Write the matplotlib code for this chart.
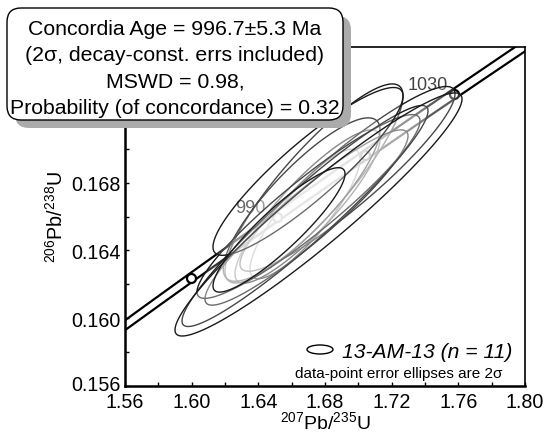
import numpy as np
import matplotlib
matplotlib.use("Agg")
import matplotlib.pyplot as plt
from matplotlib.patches import FancyBboxPatch, Polygon, Ellipse
from matplotlib.transforms import IdentityTransform, ScaledTranslation
from matplotlib.ticker import MultipleLocator, FixedLocator, FixedFormatter, FormatStrFormatter

plt.rcParams['font.family'] = ['Liberation Sans', 'DejaVu Sans']
plt.rcParams['mathtext.fontset'] = 'custom'
plt.rcParams['mathtext.rm'] = 'Liberation Sans'
plt.rcParams['mathtext.it'] = 'Liberation Sans:italic'

# U-Pb analyses (2-sigma errors) and error correlations
pb207_u235 = [1.6680, 1.6695, 1.6734, 1.6935, 1.6660, 1.6689, 1.6701, 1.6680, 1.6698, 1.6761, 1.6524]
err207 = [0.0330, 0.0435, 0.0534, 0.0645, 0.0470, 0.0609, 0.0669, 0.0738, 0.0570, 0.0861, 0.0396]
pb206_u238 = [0.16615, 0.16659, 0.16795, 0.16822, 0.16700, 0.16594, 0.16659, 0.16603, 0.16866, 0.16612, 0.16521]
err206 = [0.00382, 0.00452, 0.00587, 0.00545, 0.00482, 0.00517, 0.00542, 0.00652, 0.00495, 0.00717, 0.00367]
rho = [0.85, 0.88, 0.88, 0.92, 0.85, 0.93, 0.93, 0.95, 0.90, 0.95, 0.90]

marker_ages = [970, 990, 1010, 1030]
labelled_ages = [990, 1030]

y_ticks = [0.156, 0.160, 0.164, 0.168, 0.172, 0.176]
y_tick_labels = ['0.156', '0.160', '0.164', '0.168', '', '']

LAMBDA_235 = 9.8485e-10
LAMBDA_238 = 1.55125e-10
LAMBDA_REL_ERR = 0.0017

W, H = 546, 435
fig = plt.figure(figsize=(W / 100, H / 100), dpi=100)
ax = fig.add_axes([125 / W, (H - 387) / H, 400 / W, 339 / H])
ax.set_xlim(1.56, 1.80)
ax.set_ylim(0.156, 0.176)


def concordia(t, shift=0.0):
    x = np.exp(LAMBDA_235 * t) - 1
    y = np.exp(LAMBDA_238 * t) - 1
    x = x + shift * LAMBDA_235 * t * np.exp(LAMBDA_235 * t) * LAMBDA_REL_ERR
    return x, y


t = np.linspace(930e6, 1060e6, 400)
for s in (-1, 1):
    cx, cy = concordia(t, s)
    ax.plot(cx, cy, color='black', lw=1.6, zorder=1, solid_capstyle='butt')

for age in marker_ages:
    mx, my = concordia(age * 1e6)
    ax.plot([mx], [my], marker='o', ms=6.5, mfc='white', mec='black', mew=1.6, zorder=2)
for age in labelled_ages:
    mx, my = concordia(age * 1e6)
    ax.annotate(str(age), (mx, my), xytext=(-19.5, 6.5), textcoords='offset points',
                ha='center', va='center', fontsize=13, color='#444444', zorder=2)

# error ellipses, filled with translucent white so earlier outlines fade
tt = np.linspace(0, 2 * np.pi, 300)
for x0, sx, y0, sy, r in zip(pb207_u235, err207, pb206_u238, err206, rho):
    ex = x0 + sx * np.cos(tt)
    ey = y0 + sy * (r * np.cos(tt) + np.sqrt(1 - r * r) * np.sin(tt))
    ax.add_patch(Polygon(np.column_stack([ex, ey]), closed=True,
                         facecolor=(1, 1, 1, 0.2), edgecolor='#1a1a1a', lw=1.0, zorder=3))

ax.xaxis.set_major_locator(MultipleLocator(0.04))
ax.xaxis.set_minor_locator(MultipleLocator(0.02))
ax.yaxis.set_major_locator(FixedLocator(y_ticks))
ax.yaxis.set_major_formatter(FixedFormatter(y_tick_labels))
ax.yaxis.set_minor_locator(MultipleLocator(0.002))
ax.xaxis.set_major_formatter(FormatStrFormatter('%.2f'))
ax.tick_params(which='both', direction='in', length=3, width=1.0, labelsize=14.2, pad=3,
               top=False, right=False)
ax.tick_params(axis='x', which='major', pad=4.0)
for side in ('left', 'bottom'):
    ax.spines[side].set_linewidth(1.8)
for side in ('top', 'right'):
    ax.spines[side].set_linewidth(1.2)

# lift the lowest y label a little so it clears the first x label
fig.canvas.draw()
low = ax.yaxis.get_majorticklabels()[0]
low.set_transform(low.get_transform() + ScaledTranslation(0, 3 / 100, fig.dpi_scale_trans))

ax.set_xlabel(r'$\mathregular{^{207}}$Pb/$\mathregular{^{235}}$U', fontsize=14, labelpad=0)
ax.set_ylabel(r'$\mathregular{^{206}}$Pb/$\mathregular{^{238}}$U', fontsize=14.2, labelpad=3)

px = IdentityTransform()

# result box with drop shadow
bx0, bx1, by0, by1 = 7, 343, 9, 121
shadow = FancyBboxPatch((bx0 + 8, H - by1 - 8), bx1 - bx0, by1 - by0,
                        boxstyle='round,pad=0,rounding_size=14', transform=px,
                        facecolor='#ababab', edgecolor='none', zorder=10)
box = FancyBboxPatch((bx0, H - by1), bx1 - bx0, by1 - by0,
                     boxstyle='round,pad=0,rounding_size=14', transform=px,
                     facecolor='white', edgecolor='black', lw=1.0, zorder=11)
fig.patches.extend([shadow, box])

lines = ['Concordia Age = 996.7\u00b15.3 Ma',
         '(2\u03c3, decay-const. errs included)',
         'MSWD = 0.98,',
         'Probability (of concordance) = 0.32']
for i, s in enumerate(lines):
    fig.text((bx0 + bx1) / 2, H - (34.8 + 26.4 * i), s, transform=px,
             ha='center', va='baseline', fontsize=15.3, zorder=12)

# legend
fig.patches.append(Ellipse((320, H - 350.5), 26, 9, transform=px, facecolor='none',
                           edgecolor='black', lw=1.0, zorder=12))
fig.text(512, H - 358, '13-AM-13 (n = 11)', transform=px, ha='right', va='baseline',
         fontsize=15.2, style='italic', zorder=12)
fig.text(502, H - 378.5, 'data-point error ellipses are 2\u03c3', transform=px,
         ha='right', va='baseline', fontsize=11, zorder=12)

fig.savefig('out.png', dpi=100)
